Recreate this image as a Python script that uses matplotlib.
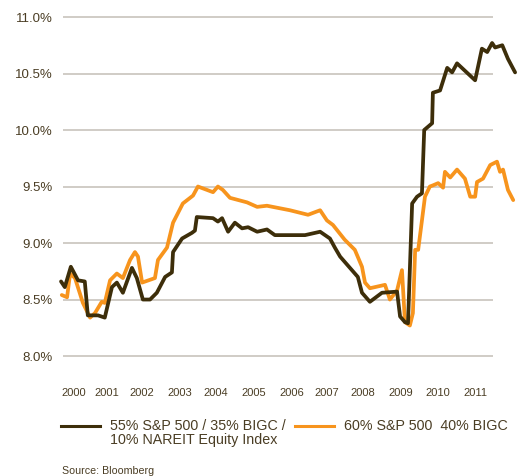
import matplotlib
matplotlib.use("Agg")
import matplotlib.pyplot as plt
from matplotlib.lines import Line2D

plt.rcParams["font.family"] = ["Liberation Sans", "DejaVu Sans"]

# blended portfolio: 55% S&P 500 / 35% BIGC / 10% NAREIT
blend_x = [1999.95, 2000.05, 2000.21, 2000.40, 2000.58, 2000.66, 2000.93, 2001.11,
           2001.30, 2001.43, 2001.59, 2001.83, 2001.96, 2002.12, 2002.31, 2002.49,
           2002.71, 2002.89, 2002.92, 2003.16, 2003.42, 2003.50, 2003.55, 2003.98,
           2004.11, 2004.22, 2004.38, 2004.56, 2004.75, 2004.91, 2005.15, 2005.41,
           2005.62, 2006.29, 2006.42, 2006.82, 2007.08, 2007.21, 2007.35, 2007.82,
           2007.93, 2008.14, 2008.46, 2008.86, 2008.94, 2009.07, 2009.15, 2009.26,
           2009.39, 2009.52, 2009.58, 2009.79, 2009.81, 2010.00, 2010.19, 2010.32,
           2010.45, 2010.93, 2011.11, 2011.25, 2011.38, 2011.46, 2011.65, 2011.80,
           2011.99]
blend_y = [8.66, 8.61, 8.79, 8.67, 8.66, 8.36, 8.36, 8.34,
           8.61, 8.65, 8.56, 8.78, 8.69, 8.50, 8.50, 8.56,
           8.70, 8.74, 8.92, 9.04, 9.09, 9.11, 9.23, 9.22,
           9.19, 9.22, 9.10, 9.18, 9.13, 9.14, 9.10, 9.12,
           9.07, 9.07, 9.07, 9.10, 9.04, 8.96, 8.88, 8.70,
           8.56, 8.48, 8.56, 8.57, 8.35, 8.30, 8.29, 9.35,
           9.41, 9.44, 10.00, 10.06, 10.33, 10.35, 10.55, 10.51,
           10.59, 10.44, 10.72, 10.69, 10.77, 10.73, 10.75, 10.63,
           10.51]

# 60% S&P 500 / 40% BIGC
sixty_x = [1999.97, 2000.11, 2000.19, 2000.32, 2000.53, 2000.72, 2000.85, 2001.03,
           2001.11, 2001.25, 2001.43, 2001.59, 2001.78, 2001.91, 2001.99, 2002.10,
           2002.44, 2002.52, 2002.76, 2002.92, 2003.18, 2003.45, 2003.58, 2003.98,
           2004.11, 2004.24, 2004.43, 2004.88, 2005.15, 2005.41, 2006.02, 2006.50,
           2006.82, 2007.00, 2007.16, 2007.47, 2007.74, 2007.93, 2008.01, 2008.14,
           2008.54, 2008.67, 2008.86, 2008.99, 2009.07, 2009.20, 2009.28, 2009.34,
           2009.42, 2009.52, 2009.60, 2009.73, 2009.81, 2009.95, 2010.08, 2010.13,
           2010.27, 2010.45, 2010.66, 2010.80, 2010.93, 2010.98, 2011.14, 2011.33,
           2011.51, 2011.59, 2011.67, 2011.80, 2011.94]
sixty_y = [8.54, 8.52, 8.73, 8.69, 8.47, 8.34, 8.38, 8.48,
           8.47, 8.67, 8.73, 8.69, 8.85, 8.92, 8.88, 8.65,
           8.69, 8.85, 8.96, 9.18, 9.35, 9.42, 9.50, 9.45,
           9.50, 9.47, 9.40, 9.36, 9.32, 9.33, 9.29, 9.25,
           9.29, 9.20, 9.16, 9.03, 8.94, 8.79, 8.65, 8.60,
           8.63, 8.50, 8.58, 8.76, 8.30, 8.27, 8.38, 8.94,
           8.94, 9.20, 9.41, 9.50, 9.51, 9.53, 9.49, 9.63,
           9.58, 9.65, 9.57, 9.41, 9.41, 9.54, 9.57, 9.69,
           9.72, 9.63, 9.65, 9.47, 9.38]

y_ticks = [8.0, 8.5, 9.0, 9.5, 10.0, 10.5, 11.0]
year_labels = ["2000", "2001", "2002", "2003", "2004", "2005",
               "2006", "2007", "2008", "2009", "2010", "2011"]
year_pos = [2000.28, 2001.17, 2002.08, 2003.10, 2004.06, 2005.07,
            2006.07, 2007.00, 2007.96, 2008.97, 2009.93, 2010.93]

dark = "#3d2e0a"
orange = "#f7941d"
text_c = "#4a3d24"

W, H = 525, 476
fig = plt.figure(figsize=(W / 100, H / 100), dpi=100)
ax = fig.add_axes([55 / W, 1 - 360 / H, 465 / W, 350 / H])

ax.hlines(y_ticks, 2000.0, 2011.41, color="#cdc8c1", lw=1.3, zorder=1)
ax.plot(sixty_x, sixty_y, color=orange, lw=2.7, solid_joinstyle="round",
        solid_capstyle="round", zorder=3)
ax.plot(blend_x, blend_y, color=dark, lw=2.7, solid_joinstyle="round",
        solid_capstyle="round", zorder=4)

ax.set_xlim(1999.79, 2012.12)
ax.set_ylim(7.965, 11.062)
ax.set_yticks(y_ticks)
ax.set_yticklabels([f"{v:.1f}%" for v in y_ticks], fontsize=9.5, color=text_c)
ax.set_xticks(year_pos)
ax.set_xticklabels(year_labels, fontsize=8, color=text_c)
ax.tick_params(axis="both", length=0)
ax.tick_params(axis="y", pad=1.5)
ax.tick_params(axis="x", pad=20)
for s in ax.spines.values():
    s.set_visible(False)

# legend drawn by hand in pixel positions
def fx(px):
    return px / W

def fy(py):
    return 1 - py / H

fig.add_artist(Line2D([fx(61), fx(100)], [fy(426), fy(426)], color=dark, lw=2.2))
fig.text(fx(110), fy(426), "55% S&P 500 / 35% BIGC /\n10% NAREIT Equity Index",
         fontsize=10.3, color=text_c, va="top", ha="left", linespacing=1.0,
         transform=fig.transFigure).set_y(fy(419))
fig.add_artist(Line2D([fx(295), fx(334)], [fy(426), fy(426)], color=orange, lw=2.2))
fig.text(fx(344), fy(426), "60% S&P 500  40% BIGC", fontsize=10.3, color=text_c,
         va="center", ha="left")

fig.text(fx(62), fy(471), "Source: Bloomberg", fontsize=7.7, color=text_c,
         va="center", ha="left")

fig.savefig("out.png", dpi=100)
